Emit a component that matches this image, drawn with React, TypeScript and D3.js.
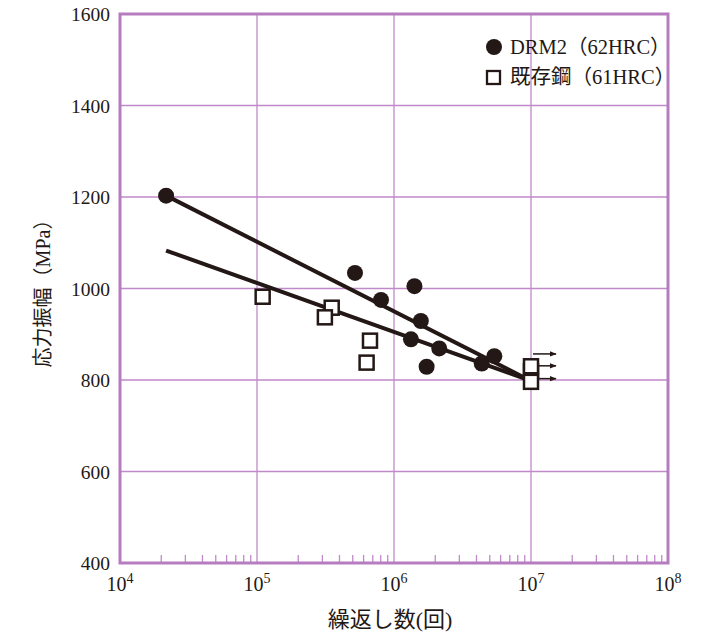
import React from "react";
import * as d3 from "d3";

const drmCycles = [21700, 519000, 804000, 1410000, 1570000, 1330000, 2140000, 1730000, 4370000, 5400000];
const drmStress = [1203, 1034, 975, 1005, 929, 889, 869, 829, 836, 852];
const existCycles = [110000, 351000, 313000, 668000, 631000, 1e7, 1e7, 1e7];
const existStress = [982, 958, 937, 886, 838, 819, 830, 796];
const drmFit = [[21700, 1203], [1e7, 798]];
const existFit = [[21700, 1083], [1e7, 798]];
const runoutStress = [857, 831, 803];
const yTicks = [400, 600, 800, 1000, 1200, 1400, 1600];
const xDecades = [4, 5, 6, 7, 8];
const legendLabels = ["DRM2（62HRC）", "既存鋼（61HRC）"];

const W = 720, H = 635;
const L = 120, R = 668, T = 14, B = 563;
const ink = "#231815";
const grid = "#c089c9";
const frame = "#b57cc0";
const serif = "Liberation Serif, DejaVu Serif, Noto Sans CJK JP, serif";

const txt = (size: number) => ({ fontFamily: serif, fontSize: size });

export default function App() {
  const x = d3.scaleLog().domain([1e4, 1e8]).range([L, R]);
  const y = d3.scaleLinear().domain([400, 1600]).range([B, T]);
  const line = d3.line<number[]>().x(d => x(d[0])).y(d => y(d[1]));
  const minor: number[] = [];
  for (let e = 4; e < 8; e++) for (let m = 2; m <= 9; m++) minor.push(m * Math.pow(10, e));

  return (
    <svg width={W} height={H} style={{ position: "absolute", left: 0, top: 0, background: "#fff" }}>
      <defs>
        <marker id="ah" viewBox="0 0 10 10" refX="9" refY="5" markerWidth="7" markerHeight="7" orient="auto" markerUnits="userSpaceOnUse">
          <path d="M0,1 L10,5 L0,9 z" fill={ink} />
        </marker>
      </defs>
      {yTicks.slice(1, -1).map(v => (
        <line key={"gy" + v} x1={L} x2={R} y1={y(v)} y2={y(v)} stroke={grid} strokeWidth={1.3} />
      ))}
      {xDecades.slice(1, -1).map(e => (
        <line key={"gx" + e} x1={x(Math.pow(10, e))} x2={x(Math.pow(10, e))} y1={T} y2={B} stroke={grid} strokeWidth={1.3} />
      ))}
      {minor.map(v => (
        <line key={"mt" + v} x1={x(v)} x2={x(v)} y1={B} y2={B - 8} stroke={grid} strokeWidth={1.3} />
      ))}
      <rect x={L} y={T} width={R - L} height={B - T} fill="none" stroke={frame} strokeWidth={3} />
      {yTicks.map(v => (
        <text key={"yl" + v} x={110} y={y(v) + 7} textAnchor="end" style={txt(19.5)} fill={ink}>{v}</text>
      ))}
      {xDecades.map(e => (
        <text key={"xl" + e} x={x(Math.pow(10, e))} y={591} textAnchor="middle" style={txt(20)} fill={ink}>
          10<tspan dy={-8} style={{ fontSize: 14 }}>{e}</tspan>
        </text>
      ))}
      <text x={x(1e6) - 4} y={627} textAnchor="middle" style={txt(22)} fill={ink}>繰返し数(回)</text>
      <text transform={`translate(50, ${(T + B) / 2}) rotate(-90)`} textAnchor="middle" style={txt(20)} fill={ink}>応力振幅（MPa）</text>
      <path d={line(drmFit) || ""} fill="none" stroke={ink} strokeWidth={4} />
      <path d={line(existFit) || ""} fill="none" stroke={ink} strokeWidth={4} />
      {runoutStress.map(v => (
        <line key={"ar" + v} x1={x(1e7) + 2} x2={x(1e7) + 25} y1={y(v)} y2={y(v)} stroke={ink} strokeWidth={1.5} markerEnd="url(#ah)" />
      ))}
      {existCycles.map((c, i) => (
        <rect key={"ex" + i} x={x(c) - 7} y={y(existStress[i]) - 7} width={14} height={14} fill="#fff" stroke={ink} strokeWidth={2.5} />
      ))}
      {drmCycles.map((c, i) => (
        <circle key={"dr" + i} cx={x(c)} cy={y(drmStress[i])} r={8} fill={ink} />
      ))}
      <circle cx={494} cy={47} r={8} fill={ink} />
      <text x={510} y={54} style={txt(20.5)} fill={ink}>{legendLabels[0]}</text>
      <rect x={487} y={71} width={13} height={13} fill="#fff" stroke={ink} strokeWidth={2.3} />
      <text x={510} y={84} style={txt(20.5)} fill={ink}>{legendLabels[1]}</text>
    </svg>
  );
}
